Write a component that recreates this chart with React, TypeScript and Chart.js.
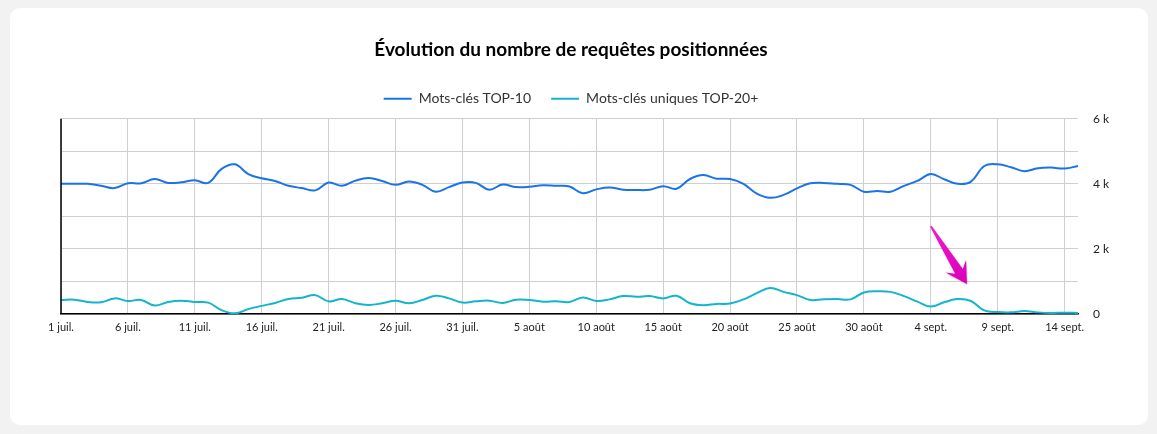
import React, { useEffect, useRef } from "react";
import { Chart, registerables } from "chart.js";

Chart.register(...registerables);

const dateLabels: string[] = [
  "1 juil.", "2 juil.", "3 juil.", "4 juil.", "5 juil.", "6 juil.", "7 juil.", "8 juil.", "9 juil.", "10 juil.",
  "11 juil.", "12 juil.", "13 juil.", "14 juil.", "15 juil.", "16 juil.", "17 juil.", "18 juil.", "19 juil.", "20 juil.",
  "21 juil.", "22 juil.", "23 juil.", "24 juil.", "25 juil.", "26 juil.", "27 juil.", "28 juil.", "29 juil.", "30 juil.",
  "31 juil.", "1 août", "2 août", "3 août", "4 août", "5 août", "6 août", "7 août", "8 août", "9 août",
  "10 août", "11 août", "12 août", "13 août", "14 août", "15 août", "16 août", "17 août", "18 août", "19 août",
  "20 août", "21 août", "22 août", "23 août", "24 août", "25 août", "26 août", "27 août", "28 août", "29 août",
  "30 août", "31 août", "1 sept.", "2 sept.", "3 sept.", "4 sept.", "5 sept.", "6 sept.", "7 sept.", "8 sept.",
  "9 sept.", "10 sept.", "11 sept.", "12 sept.", "13 sept.", "14 sept.", "15 sept.",
];

const top10Values: number[] = [
  4000, 4000, 4000, 3940, 3870, 4020, 4020, 4150, 4030, 4050,
  4110, 4030, 4460, 4600, 4300, 4170, 4090, 3940, 3870, 3800,
  4040, 3940, 4100, 4180, 4090, 3970, 4070, 3970, 3760, 3900,
  4040, 4030, 3820, 3980, 3900, 3910, 3960, 3940, 3920, 3710,
  3830, 3890, 3820, 3810, 3820, 3930, 3850, 4150, 4270, 4160,
  4150, 4000, 3700, 3570, 3660, 3860, 4020, 4030, 4000, 3970,
  3760, 3780, 3760, 3940, 4090, 4300, 4140, 4000, 4070, 4550,
  4600, 4510, 4390, 4480, 4500, 4470, 4550,
];

const top20Values: number[] = [
  430, 440, 370, 360, 480, 400, 430, 260, 370, 410,
  370, 350, 120, 20, 150, 250, 340, 460, 500, 580,
  390, 460, 330, 280, 330, 410, 330, 430, 560, 480,
  350, 390, 410, 340, 440, 430, 380, 390, 370, 510,
  400, 450, 550, 530, 550, 480, 560, 330, 270, 310,
  320, 450, 640, 800, 680, 580, 430, 450, 460, 450,
  660, 700, 680, 550, 380, 230, 360, 460, 400, 110,
  60, 50, 90, 50, 30, 40, 30,
];

const seriesNames: string[] = ["Mots-clés TOP-10", "Mots-clés uniques TOP-20+"];
const seriesColors: string[] = ["#1a73e8", "#12b5cb"];
const yTickValues: number[] = [0, 2000, 4000, 6000];
const titleText = "Évolution du nombre de requêtes positionnées";

// Annotation arrow, in data coordinates (category index, value)
const arrowTail = { x: 65.0, y: 2700 };
const arrowTip = { x: 67.7, y: 920 };

const arrowPlugin = {
  id: "arrowAnnotation",
  afterDatasetsDraw(chart: any) {
    const xs = chart.scales.x;
    const ys = chart.scales.y;
    const tx = xs.getPixelForValue(arrowTail.x);
    const ty = ys.getPixelForValue(arrowTail.y);
    const px = xs.getPixelForValue(arrowTip.x);
    const py = ys.getPixelForValue(arrowTip.y);
    const dx = px - tx;
    const dy = py - ty;
    const len = Math.sqrt(dx * dx + dy * dy);
    const ux = dx / len;
    const uy = dy / len;
    const nx = -uy;
    const ny = ux;
    const headLen = 21;
    const baseBack = 15;
    const headHalf = 12;
    const shaftHalf = 4.5;
    const ctx = chart.ctx;
    ctx.save();
    ctx.beginPath();
    ctx.moveTo(tx - nx * 0.8, ty - ny * 0.8);
    ctx.lineTo(tx + nx * 0.8, ty + ny * 0.8);
    ctx.lineTo(px - ux * baseBack + nx * shaftHalf, py - uy * baseBack + ny * shaftHalf);
    ctx.lineTo(px - ux * headLen + nx * headHalf, py - uy * headLen + ny * headHalf);
    ctx.lineTo(px, py);
    ctx.lineTo(px - ux * headLen - nx * headHalf, py - uy * headLen - ny * headHalf);
    ctx.lineTo(px - ux * baseBack - nx * shaftHalf, py - uy * baseBack - ny * shaftHalf);
    ctx.closePath();
    const grad = ctx.createLinearGradient(tx, ty, px, py);
    grad.addColorStop(0, "#f01ad0");
    grad.addColorStop(1, "#d800b8");
    ctx.fillStyle = grad;
    ctx.shadowColor = "rgba(120,0,100,0.35)";
    ctx.shadowBlur = 1.5;
    ctx.shadowOffsetX = 0.5;
    ctx.shadowOffsetY = 0.8;
    ctx.fill();
    ctx.restore();
  },
};

const layoutTweaks = {
  id: "layoutTweaks",
  beforeInit(chart: any) {
    const legend = chart.legend;
    if (legend && !legend.__patched) {
      const origFit = legend.fit;
      legend.fit = function () {
        origFit.call(this);
        this.height += 3;
      };
      legend.__patched = true;
    }
  },
  afterDatasetsDraw(c: any) {
    const { ctx, chartArea } = c;
    ctx.save();
    ctx.strokeStyle = "#000";
    ctx.lineWidth = 1.5;
    ctx.beginPath();
    ctx.moveTo(chartArea.left, chartArea.top);
    ctx.lineTo(chartArea.left, chartArea.bottom);
    ctx.stroke();
    ctx.restore();
  },
};

export default function App() {
  const canvasRef = useRef<HTMLCanvasElement | null>(null);

  useEffect(() => {
    document.body.style.margin = "0";
    document.body.style.background = "#f2f2f2";
    const canvas = canvasRef.current;
    if (!canvas) return;
    const font = "Lato, 'Open Sans', sans-serif";
    const chart = new Chart(canvas, {
      type: "line",
      data: {
        labels: dateLabels,
        datasets: [
          {
            label: seriesNames[0],
            data: top10Values,
            yAxisID: "y",
            xAxisID: "x",
            borderColor: seriesColors[0],
            backgroundColor: seriesColors[0],
            borderWidth: 2,
            pointRadius: 0,
            tension: 0.4,
            fill: false,
          },
          {
            label: seriesNames[1],
            data: top20Values,
            yAxisID: "y",
            xAxisID: "x",
            borderColor: seriesColors[1],
            backgroundColor: seriesColors[1],
            borderWidth: 2,
            pointRadius: 0,
            tension: 0.4,
            fill: false,
          },
        ],
      },
      options: {
        animation: false,
        responsive: true,
        maintainAspectRatio: false,
        layout: { padding: { left: 0, right: 16, top: 0, bottom: 71 } },
        plugins: {
          title: {
            display: true,
            text: titleText,
            color: "#000",
            font: { family: font, size: 19, weight: "bold" },
            padding: { top: 30, bottom: 11 },
          },
          legend: {
            display: true,
            labels: {
              color: "#333",
              font: { family: font, size: 14 },
              boxWidth: 28,
              boxHeight: 2,
              padding: 20,
              generateLabels: (c: any) =>
                (Chart as any).defaults.plugins.legend.labels
                  .generateLabels(c)
                  .map((l: any) => ({ ...l, lineWidth: 0 })),
            },
          },
          tooltip: { enabled: false },
        },
        scales: {
          x: {
            type: "category",
            offset: false,
            grid: {
              drawTicks: false,
              color: (ctx: any) => (ctx.index % 5 === 0 ? "#cfcfcf" : "rgba(0,0,0,0)"),
              lineWidth: 1,
            },
            border: { display: true, color: "#000", width: 1.5 },
            ticks: {
              autoSkip: false,
              maxRotation: 0,
              padding: 7,
              color: "#222",
              font: { family: font, size: 11 },
              callback: (_v: any, i: number) => (i % 5 === 0 ? dateLabels[i] : ""),
            },
            afterFit: (scale: any) => {
              scale.height = 40;
            },
          },
          yLeft: {
            type: "linear",
            position: "left",
            display: true,
            grid: { display: false },
            border: { display: false },
            ticks: { display: false },
            afterFit: (scale: any) => {
              scale.width = 51;
            },
          },
          y: {
            type: "linear",
            position: "right",
            min: 0,
            max: 6000,
            grid: { drawTicks: false, color: "#cfcfcf", lineWidth: 1 },
            border: { display: false },
            ticks: {
              stepSize: 1000,
              padding: 15,
              color: "#222",
              font: { family: font, size: 12 },
              callback: (v: any) => {
                const n = Number(v);
                if (!yTickValues.includes(n)) return "";
                return n === 0 ? "0" : `${n / 1000} k`;
              },
            },
            afterFit: (scale: any) => {
              scale.width = 54;
            },
          },
        },
      },
      plugins: [layoutTweaks, arrowPlugin],
    } as any);
    return () => chart.destroy();
  }, []);

  return (
    <div style={{ padding: "8px 9px 9px 10px", boxSizing: "border-box", width: 1157, height: 434 }}>
      <div
        style={{
          width: 1138,
          height: 417,
          background: "#fff",
          borderRadius: 10,
          overflow: "hidden",
          position: "relative",
        }}
      >
        <canvas ref={canvasRef} />
      </div>
    </div>
  );
}
